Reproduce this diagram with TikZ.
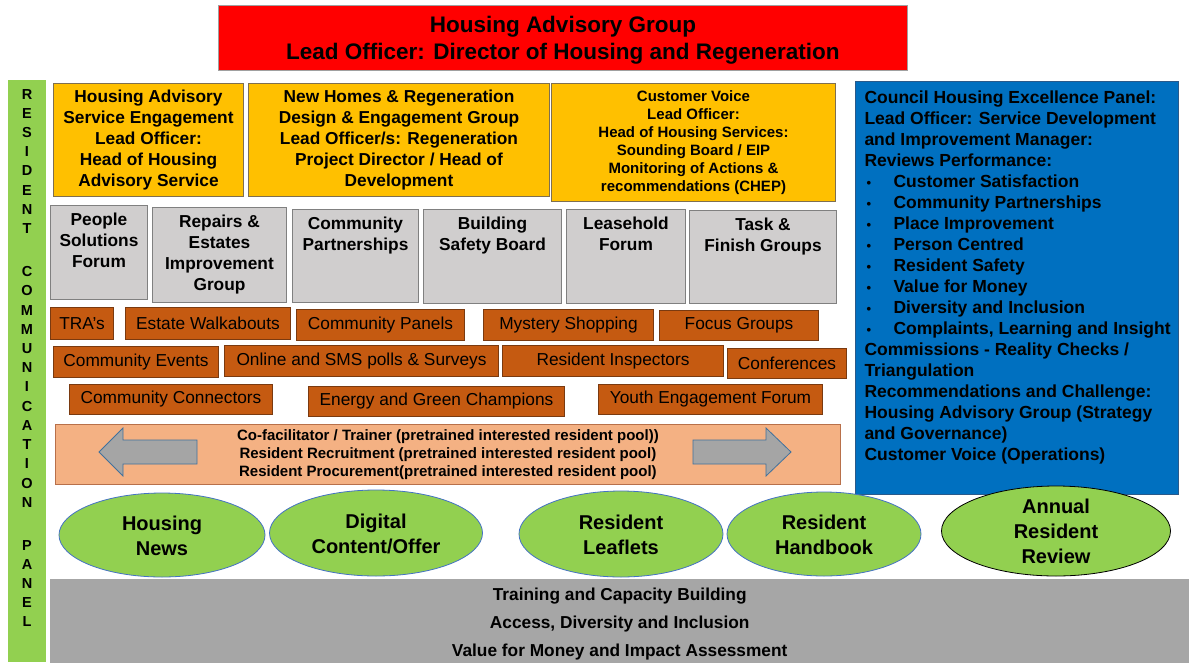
\documentclass[tikz,border=0pt]{standalone}
\usepackage{fontspec}
\setmainfont{Liberation Sans}
\usetikzlibrary{shapes.geometric}
\definecolor{cred}{HTML}{FF0000}
\definecolor{credb}{HTML}{A0A0A0}
\definecolor{cyellow}{HTML}{FFC000}
\definecolor{cyb}{HTML}{7F6F50}
\definecolor{cgrey}{HTML}{D0CECE}
\definecolor{cgb}{HTML}{808080}
\definecolor{corange}{HTML}{C55A11}
\definecolor{cob}{HTML}{7A3A10}
\definecolor{cpeach}{HTML}{F4B183}
\definecolor{cpb}{HTML}{B8704A}
\definecolor{cgreen}{HTML}{92D050}
\definecolor{cblue}{HTML}{0070C0}
\definecolor{cbb}{HTML}{2A5A8A}
\definecolor{cbot}{HTML}{A6A6A6}
\definecolor{carrow}{HTML}{A5A5A5}
\definecolor{carb}{HTML}{41719C}
\definecolor{cellb}{HTML}{4472C4}
\newcommand\rbox[7]{\node[#1,anchor=north west,minimum width={\the\dimexpr#5pt-#3pt\relax},minimum height={\the\dimexpr#6pt-#4pt\relax}] (#2) at (#3,#4) {#7};}
\newcommand\tbox[7]{\node[#1,anchor=north west,inner sep=0pt] (#2) at (#3,#4) {\parbox[c][\dimexpr#6pt-#4pt\relax][t]{\dimexpr#5pt-#3pt\relax}{\centering\vspace*{5pt}\strut #7}};}
\newcommand\bul{\makebox[29pt][l]{\hspace{2pt}{\fontsize{13}{13}\selectfont •}}}
\newcommand\elltext[1]{\raisebox{-6pt}[0pt][0pt]{\parbox[c][0pt][c]{130pt}{\centering #1}}}
\begin{document}
\begin{tikzpicture}[x=1pt,y=-1pt,
  base/.style={inner sep=2pt, align=center, text=black},
  redbox/.style={base, fill=cred, draw=credb, line width=0.8pt, font=\bfseries\fontsize{22.5}{27}\selectfont},
  ybox/.style={base, fill=cyellow, draw=cyb, line width=1pt, font=\bfseries\fontsize{17.3}{21}\selectfont},
  ysmall/.style={ybox, font=\bfseries\fontsize{15}{18}\selectfont},
  gbox/.style={base, fill=cgrey, draw=cgb, line width=1pt, font=\bfseries\fontsize{17.3}{21}\selectfont},
  obox/.style={base, fill=corange, draw=cob, line width=1pt, font=\fontsize{17.3}{21}\selectfont},
  pbox/.style={base, fill=cpeach, draw=cpb, line width=0.8pt, font=\bfseries\fontsize{15}{18}\selectfont},
  bbox/.style={base, fill=cblue, draw=cbb, line width=1pt, inner sep=0pt, font=\bfseries\fontsize{17.5}{21}\selectfont},
  botbox/.style={base, fill=cbot, draw=none, font=\bfseries\fontsize{17.3}{28}\selectfont},
  lbar/.style={fill=cgreen, draw=none, inner sep=0pt},
  letter/.style={inner sep=0pt, text height=10.4pt, text depth=0pt, font=\bfseries\fontsize{14.5}{14.5}\selectfont},
  ell/.style={ellipse, fill=cgreen, draw=cellb, line width=0.8pt, inner sep=0pt, font=\bfseries\fontsize{20}{25}\selectfont},
  arr/.style={fill=carrow, draw=carb, line width=0.8pt, line join=miter}
]
\useasboundingbox (0,0) rectangle (1189,662);
\fill[white] (0,0) rectangle (1189,662);

% top
\rbox{redbox}{hag}{218}{5}{907}{70}{\rule{0pt}{20.5pt}Housing Advisory Group\\Lead Officer: Director of Housing and Regeneration}

% left bar
\rbox{lbar}{bar}{8}{80}{46}{662}{}
\foreach \ch/\yy [count=\i] in {R/94,E/113,S/132,I/151,D/170,E/190,N/209,T/228,
  C/271,O/290,M/310,M/329,U/348,N/367,I/386,C/406,A/425,T/444,I/463,O/483,N/502,
  P/545,A/564,N/583,E/602,L/621}
  \node[letter] (lt\i) at (27,\yy) {\ch};

% yellow boxes
\rbox{ybox}{has}{53}{83}{243}{196}{Housing Advisory\\Service Engagement\\Lead Officer:\\Head of Housing\\Advisory Service}
\rbox{ybox}{nhr}{248}{83}{549}{196}{New Homes  \& Regeneration\\Design \& Engagement Group\\Lead Officer/s: Regeneration\\Project Director / Head of\\Development}
\rbox{ysmall}{cv}{551}{83}{835}{201}{Customer Voice\\Lead Officer:\\Head of Housing Services:\\Sounding Board / EIP\\Monitoring of Actions \&\\recommendations (CHEP)}

% blue panel
\node[bbox,anchor=north west] (chep) at (855,81) {\parbox[c][413pt][t]{323pt}{\raggedright\leftskip=9pt\vspace*{7pt}\strut Council Housing Excellence Panel:\\
Lead Officer: Service Development\\
and Improvement  Manager:\\
Reviews Performance:\\
\bul Customer Satisfaction\\
\bul Community  Partnerships\\
\bul Place Improvement\\
\bul Person Centred\\
\bul Resident Safety\\
\bul Value for Money\\
\bul Diversity and Inclusion\\
\bul Complaints, Learning and Insight\\
Commissions  - Reality Checks /\\
Triangulation\\
Recommendations and Challenge:\\
Housing Advisory Group (Strategy\\
and Governance)\\
Customer Voice (Operations)}};

% grey boxes
\tbox{gbox}{psf}{50}{205}{147}{299}{People\\Solutions\\Forum}
\tbox{gbox}{rei}{152}{207}{286}{302}{Repairs \&\\Estates\\Improvement\\Group}
\tbox{gbox}{cp}{292}{209}{418}{302}{Community\\Partnerships}
\tbox{gbox}{bsb}{423}{209}{561}{303}{Building\\Safety Board}
\tbox{gbox}{lf}{566}{209}{685}{303}{Leasehold\\Forum}
\tbox{gbox}{tfg}{689}{210}{836}{303}{Task \&\\Finish Groups}

% orange boxes
\rbox{obox}{tra}{50}{307}{113}{339}{TRA's}
\rbox{obox}{ew}{125}{307}{290}{339}{Estate Walkabouts}
\rbox{obox}{cpan}{296}{309}{464}{340}{Community  Panels}
\rbox{obox}{ms}{483}{309}{653}{340}{Mystery Shopping}
\rbox{obox}{fg}{659}{310}{818}{340}{Focus Groups}
\rbox{obox}{ce}{53}{346}{218}{377}{Community  Events}
\rbox{obox}{os}{224}{345}{498}{376}{Online  and SMS polls \& Surveys}
\rbox{obox}{ri}{502}{345}{723}{376}{Resident Inspectors}
\rbox{obox}{conf}{727}{348}{846}{378}{Conferences}
\rbox{obox}{cc}{69}{384}{272}{414}{Community  Connectors}
\rbox{obox}{egc}{308}{386}{564}{416}{Energy and Green Champions}
\rbox{obox}{yef}{598}{384}{822}{414}{Youth  Engagement  Forum}

% peach bar
\rbox{pbox}{pool}{55}{424}{840}{484}{Co-facilitator / Trainer (pretrained interested resident pool))\\Resident Recruitment (pretrained interested resident pool)\\Resident Procurement(pretrained interested resident pool)}
\draw[arr] (99,452) -- (123,428) -- (123,440) -- (197,440) -- (197,464) -- (123,464) -- (123,476) -- cycle;
\draw[arr] (791,452) -- (766,428) -- (766,440) -- (693,440) -- (693,464) -- (766,464) -- (766,476) -- cycle;

% ellipses
\node[ell, minimum width=206, minimum height=84] (hn) at (162,535) {\elltext{Housing\\News}};
\node[ell, minimum width=213, minimum height=86] (dco) at (376,533) {\elltext{Digital\\Content/Offer}};
\node[ell, minimum width=204, minimum height=86] (rl) at (621,534) {\elltext{Resident\\Leaflets}};
\node[ell, minimum width=194, minimum height=84] (rh) at (824,534) {\elltext{Resident\\Handbook}};
\node[ell, draw=black, minimum width=229, minimum height=90] (arr) at (1056,531) {\elltext{Annual\\Resident\\Review}};

% bottom band
\rbox{botbox}{bot}{50}{579}{1189}{669}{Training and Capacity Building\\Access, Diversity and Inclusion\\Value for Money and Impact  Assessment}
\end{tikzpicture}
\end{document}
